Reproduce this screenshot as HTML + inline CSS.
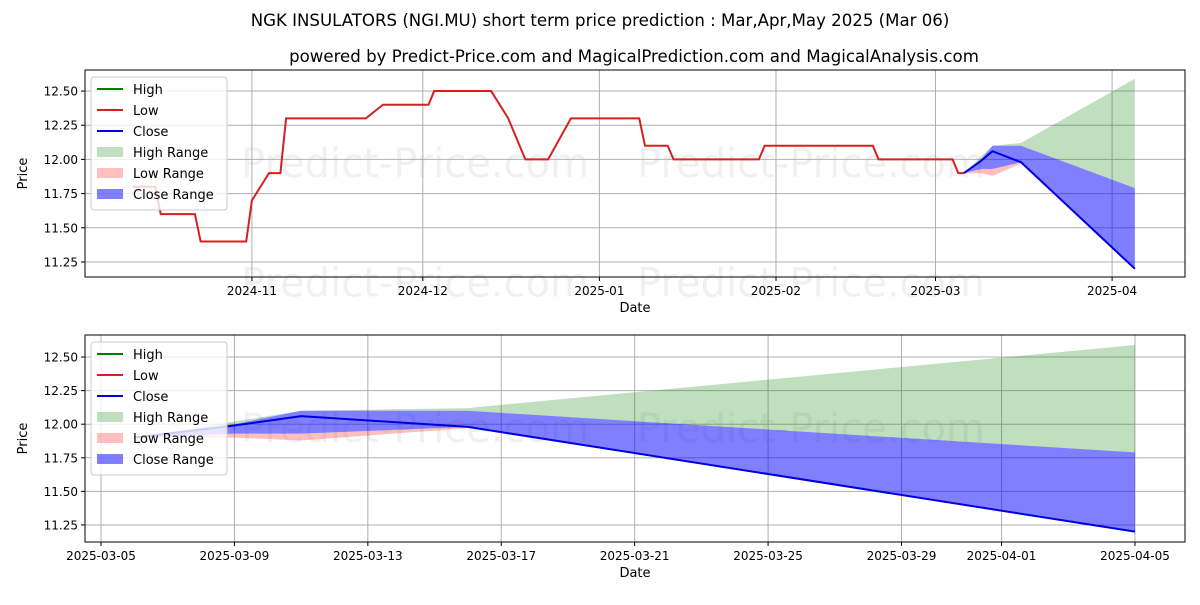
<!DOCTYPE html>
<html><head><meta charset="utf-8">
<style>
body{margin:0;background:#fff;}
svg text{font-family:"DejaVu Sans","Liberation Sans",sans-serif;}
</style></head>
<body>
<svg id="chart" width="1200" height="600" viewBox="0 0 1200 600" xmlns="http://www.w3.org/2000/svg">
<rect width="1200" height="600" fill="#fff"/>
<text x="600" y="26" text-anchor="middle" font-size="16.6">NGK INSULATORS (NGI.MU) short term price prediction : Mar,Apr,May 2025 (Mar 06)</text>
<text x="634" y="62" text-anchor="middle" font-size="16.6">powered by Predict-Price.com and MagicalPrediction.com and MagicalAnalysis.com</text>
<g id="top"></g>
<g id="bottom"></g>
</svg>
<script>
const histDates=["2024-10-11","2024-10-15","2024-10-16","2024-10-22","2024-10-23","2024-10-31","2024-11-01","2024-11-04","2024-11-06","2024-11-07","2024-11-21","2024-11-24","2024-12-02","2024-12-03","2024-12-13","2024-12-16","2024-12-19","2024-12-23","2024-12-27","2025-01-08","2025-01-09","2025-01-13","2025-01-14","2025-01-29","2025-01-30","2025-02-18","2025-02-19","2025-03-04","2025-03-05","2025-03-06"];
const histLow=[11.80,11.80,11.60,11.60,11.40,11.40,11.70,11.90,11.90,12.30,12.30,12.40,12.40,12.50,12.50,12.30,12.00,12.00,12.30,12.30,12.10,12.10,12.00,12.00,12.10,12.10,12.00,12.00,11.90,11.90];
const predDates=["2025-03-06","2025-03-09","2025-03-11","2025-03-16","2025-04-05"];
const predClose=[11.90,11.99,12.06,11.98,11.20];
const closeLo=[11.90,11.93,11.93,11.98,11.20];
const closeHi=[11.90,12.00,12.10,12.10,11.79];
const highLo=[11.90,12.00,12.10,12.10,11.79];
const highHi=[11.90,12.02,12.10,12.12,12.59];
const lowDates=["2025-03-06","2025-03-09","2025-03-11","2025-03-16"];
const lowLo=[11.90,11.90,11.88,11.97];
const lowHi=[11.90,11.93,11.93,11.98];
const yTicks=[11.25,11.50,11.75,12.00,12.25,12.50];
const topXTicks=["2024-11-01","2024-12-01","2025-01-01","2025-02-01","2025-03-01","2025-04-01"];
const topXLabels=["2024-11","2024-12","2025-01","2025-02","2025-03","2025-04"];
const botXTicks=["2025-03-05","2025-03-09","2025-03-13","2025-03-17","2025-03-21","2025-03-25","2025-03-29","2025-04-01","2025-04-05"];

const NS="http://www.w3.org/2000/svg";
const day=s=>Date.parse(s+"T00:00:00Z")/86400000;
function mk(p,t,a){const e=document.createElementNS(NS,t);for(const k in a)e.setAttribute(k,a[k]);p.appendChild(e);return e;}

function panel(g,L,R,T,B,d0,d1,v0,v1,xt,xl,showHist){
  const X=d=>L+(day(d)-d0)/(d1-d0)*(R-L);
  const Y=v=>B-(v-v0)/(v1-v0)*(B-T);
  const wmPos=showHist?[[0.3,0],[0.66,0],[0.3,1.05],[0.66,1.05]]:[[0.3,0],[0.66,0]];
  wmPos.forEach(p=>{
    const wm=mk(g,"text",{x:L+(R-L)*p[0],y:T+(B-T)*(0.45+p[1]*0.55)+14,"font-size":40,fill:"#000","fill-opacity":0.06,"text-anchor":"middle"});
    
    
    wm.textContent="Predict-Price.com";});
  yTicks.forEach(v=>{const y=Y(v);
    const gl=mk(g,"line",{x1:L,x2:R,y1:y,y2:y,stroke:"#b0b0b0","stroke-width":1});
    
    
    mk(g,"line",{x1:L-4,x2:L,y1:y,y2:y,stroke:"#000"});
    const t=mk(g,"text",{x:L-7,y:y+4.5,"font-size":12,"text-anchor":"end"});
    
    
    t.textContent=v.toFixed(2);});
  xt.forEach((d,i)=>{const x=X(d);
    const gl=mk(g,"line",{x1:x,x2:x,y1:T,y2:B,stroke:"#b0b0b0","stroke-width":1});
    
    
    mk(g,"line",{x1:x,x2:x,y1:B,y2:B+4,stroke:"#000"});
    const t=mk(g,"text",{x:x,y:B+18,"font-size":12,"text-anchor":"middle"});
    
    
    t.textContent=xl[i];});
  const band=(ds,lo,hi,col,op,nm)=>{let p=ds.map((d,i)=>X(d)+","+Y(hi[i]));
    for(let i=ds.length-1;i>=0;i--)p.push(X(ds[i])+","+Y(lo[i]));
    const e=mk(g,"polygon",{points:p.join(" "),fill:col,"fill-opacity":op});
    
    };
  band(predDates,highLo,highHi,"#008000",0.25,"high-range-band");
  band(lowDates,lowLo,lowHi,"#ff0000",0.25,"low-range-band");
  band(predDates,closeLo,closeHi,"#0000ff",0.5,"close-range-band");
  if(showHist){const e=mk(g,"polyline",{points:histDates.map((d,i)=>X(d)+","+Y(histLow[i])).join(" "),fill:"none",stroke:"#d62020","stroke-width":2});
    
    }
  const c=mk(g,"polyline",{points:predDates.map((d,i)=>X(d)+","+Y(predClose[i])).join(" "),fill:"none",stroke:"#0000dd","stroke-width":2});
  
  
  const fr=mk(g,"rect",{x:L,y:T,width:R-L,height:B-T,fill:"none",stroke:"#000","stroke-width":1});
  
  
  const xa=mk(g,"text",{x:(L+R)/2,y:B+35,"font-size":13,"text-anchor":"middle"});
  
  
  xa.textContent="Date";
  const ya=mk(g,"text",{x:27,y:(T+B)/2,"font-size":13,"text-anchor":"middle",transform:`rotate(-90 27 ${(T+B)/2})`});
  
  
  ya.textContent="Price";
  const lg=mk(g,"g",{});
  
  
  mk(lg,"rect",{x:L+6,y:T+7,width:136,height:133,rx:3,fill:"#fff","fill-opacity":0.8,stroke:"#ccc"});
  const items=[["High","line","#008000"],["Low","line","#d62020"],["Close","line","#0000dd"],["High Range","box","rgba(0,128,0,0.25)"],["Low Range","box","rgba(255,0,0,0.25)"],["Close Range","box","rgba(0,0,255,0.5)"]];
  items.forEach((it,i)=>{const y=T+19+i*21;
    const e=it[1]=="line"?mk(lg,"line",{x1:L+12,x2:L+38,y1:y,y2:y,stroke:it[2],"stroke-width":2}):mk(lg,"rect",{x:L+12,y:y-5,width:26,height:10,fill:it[2]});
    
    
    const t=mk(lg,"text",{x:L+48,y:y+5,"font-size":13});
    
    
    t.textContent=it[0];});
}
const dNov=day("2024-11-01"), dMar5=day("2025-03-05");
panel(document.getElementById("top"),85,1185,70,277,dNov-29.3,dNov+163.8,11.140,12.654,topXTicks,topXLabels,true);
panel(document.getElementById("bottom"),85,1185,335,542,dMar5-0.48,dMar5+32.5,11.123,12.664,botXTicks,botXTicks,false);
</script>
</body></html>
